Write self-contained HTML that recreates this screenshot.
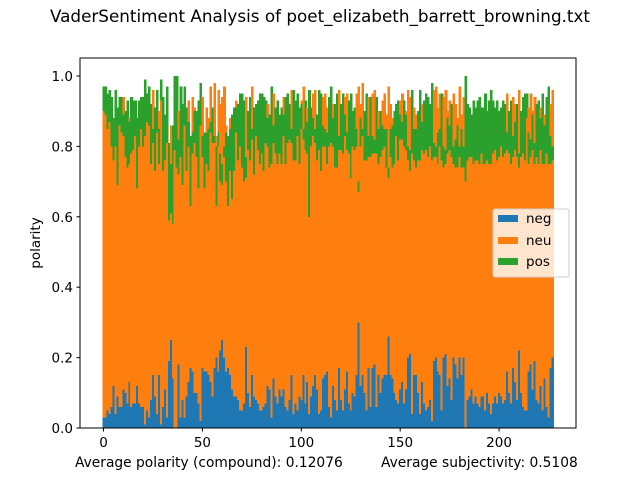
<!DOCTYPE html>
<html><head><meta charset="utf-8"><style>
body{margin:0;background:#fff;font-family:"Liberation Sans","DejaVu Sans",sans-serif}
</style></head><body>
<svg id="chart" width="640" height="480" xmlns="http://www.w3.org/2000/svg" font-family="DejaVu Sans, Liberation Sans, sans-serif">
<rect width="640" height="480" fill="#fff"/>
<text x="320" y="22" text-anchor="middle" font-size="16.8">VaderSentiment Analysis of poet_elizabeth_barrett_browning.txt</text>
<g id="bars" shape-rendering="crispEdges"></g>
<rect x="80" y="58" width="496" height="370" fill="none" stroke="#000" stroke-width="1"/>
<g id="axes" font-size="13.5"></g>
<text transform="translate(40,243) rotate(-90)" text-anchor="middle" font-size="13.5">polarity</text>
<text x="75" y="467" font-size="13.8">Average polarity (compound): 0.12076</text>
<text x="381" y="467" font-size="13.8">Average subjectivity: 0.5108</text>
<g>
<rect x="493" y="209" width="76" height="68" rx="2" fill="#fff" fill-opacity="0.8" stroke="#ccc"/>
<rect x="498" y="215" width="20" height="7" fill="#1f77b4"/>
<text x="526" y="223" font-size="13.5">neg</text>
<rect x="498" y="237" width="20" height="7" fill="#ff7f0e"/>
<text x="526" y="245" font-size="13.5">neu</text>
<rect x="498" y="258" width="20" height="7" fill="#2ca02c"/>
<text x="526" y="266" font-size="13.5">pos</text>
</g>
</svg>
<script>
const neg=[.03,.03,.05,.04,.06,.12,.04,.09,.06,.06,.11,.10,.07,.13,.06,.07,.07,.12,.07,.06,
.06,.01,.05,.03,.08,.15,.09,.04,.15,.01,.06,.11,.03,.19,.25,.14,.00,.00,.18,.03,
.08,.03,.09,.13,.17,.16,.10,.10,.07,.02,.17,.16,.16,.15,.13,.09,.17,.20,.16,.22,
.25,.20,.16,.17,.15,.11,.09,.09,.08,.05,.05,.07,.23,.10,.06,.15,.09,.08,.07,.05,
.05,.06,.07,.12,.11,.03,.14,.09,.07,.11,.09,.11,.06,.05,.08,.15,.04,.07,.05,.09,
.08,.15,.07,.13,.04,.09,.12,.15,.11,.04,.05,.14,
.15,.16,.06,.03,.12,.08,.05,.17,.08,.05,.11,.16,.07,.05,.10,.09,.15,.30,.12,.15,
.10,.05,.17,.06,.17,.18,.06,.15,.10,.14,.15,.15,.26,.15,.14,.10,.08,.07,.11,.13,
.07,.11,.20,.21,.04,.15,.15,.10,.04,.13,.07,.05,.06,.08,.02,.19,.20,.16,.15,.05,
.20,.21,.12,.14,.08,.20,.18,.14,.20,.15,.20,.00,.08,.09,.11,.07,.09,.07,.06,.09,
.09,.05,.10,.07,.04,.07,.09,.07,.10,.09,.07,.08,.16,.10,.07,.17,.13,.08,.22,.10,
.06,.05,.05,.16,.18,.11,.19,.08,.07,.12,.05,.14,.06,.03,.17,.20];
const pos=[.07,.08,.10,.09,.14,.12,.16,.22,.08,.10,.06,.13,.19,.12,.16,.14,.10,.20,.13,.09,
.14,.16,.08,.11,.17,.04,.18,.12,.10,.06,.21,.13,.16,.22,.14,.28,.21,.26,.10,.20,
.23,.11,.18,.07,.20,.06,.09,.13,.25,.12,.06,.16,.09,.12,.03,.10,.02,.17,.04,.08,
.06,.03,.14,.20,.12,.24,.18,.07,.16,.15,.21,.23,.06,.11,.18,.03,.19,.09,.14,.20,
.17,.21,.12,.08,.15,.22,.05,.13,.18,.11,.16,.06,.19,.14,.10,.04,.20,.17,.12,.16,
.07,.03,.14,.09,.36,.11,.05,.04,.13,.17,.22,.06,
.05,.09,.14,.16,.08,.18,.21,.04,.13,.17,.06,.05,.15,.24,.10,.12,.05,.03,.08,.02,
.14,.19,.06,.17,.05,.04,.16,.10,.13,.07,.05,.11,.03,.08,.12,.15,.09,.17,.07,.05,
.13,.10,.04,.06,.18,.09,.11,.14,.20,.08,.15,.16,.17,.12,.22,.04,.03,.09,.05,.19,
.06,.04,.10,.07,.15,.05,.08,.12,.03,.11,.06,.30,.16,.14,.12,.18,.15,.17,.19,.13,
.16,.20,.14,.18,.21,.15,.12,.17,.13,.11,.16,.14,.05,.12,.18,.06,.08,.15,.04,.13,
.16,.19,.07,.09,.05,.10,.06,.15,.18,.09,.20,.11,.16,.22,.08,.04];
const xTicks=[0,50,100,150,200];
const yTicks=[0.0,0.2,0.4,0.6,0.8,1.0];
const NS="http://www.w3.org/2000/svg";
const n=Math.min(neg.length,pos.length);
const xMin=-0.5-0.05*n, xMax=n-0.5+0.05*n;
function xs(v){return 80+(v-xMin)/(xMax-xMin)*496;}
function ys(v){return 428-v*352;}
function mk(tag,attrs,parent){const e=document.createElementNS(NS,tag);for(const k in attrs)e.setAttribute(k,attrs[k]);parent.appendChild(e);return e;}
const g=document.getElementById('bars');
for(let i=0;i<n;i++){
  const neu=1-neg[i]-pos[i];
  const x0=xs(i-0.5), w=xs(i+0.5)-x0+0.6;
  let r=mk('rect',{x:x0,y:ys(neg[i]),width:w,height:ys(0)-ys(neg[i]),fill:'#1f77b4'},g);
  
  
  r=mk('rect',{x:x0,y:ys(neg[i]+neu),width:w,height:ys(neg[i])-ys(neg[i]+neu),fill:'#ff7f0e'},g);
  
  
  r=mk('rect',{x:x0,y:ys(neu+pos[i]),width:w,height:ys(neu)-ys(neu+pos[i]),fill:'#2ca02c'},g);
  
  
}
const ax=document.getElementById('axes');
xTicks.forEach(t=>{
  const x=xs(t);
  mk('line',{x1:x,x2:x,y1:428,y2:431.5,stroke:'#000'},ax);
  const tx=mk('text',{x:x,y:447,'text-anchor':'middle'},ax);tx.textContent=t;
  
  
});
yTicks.forEach(t=>{
  const y=ys(t);
  mk('line',{x1:76.5,x2:80,y1:y,y2:y,stroke:'#000'},ax);
  const tx=mk('text',{x:73,y:y+5,'text-anchor':'end'},ax);tx.textContent=t.toFixed(1);
  
  
});
</script>
</body></html>
